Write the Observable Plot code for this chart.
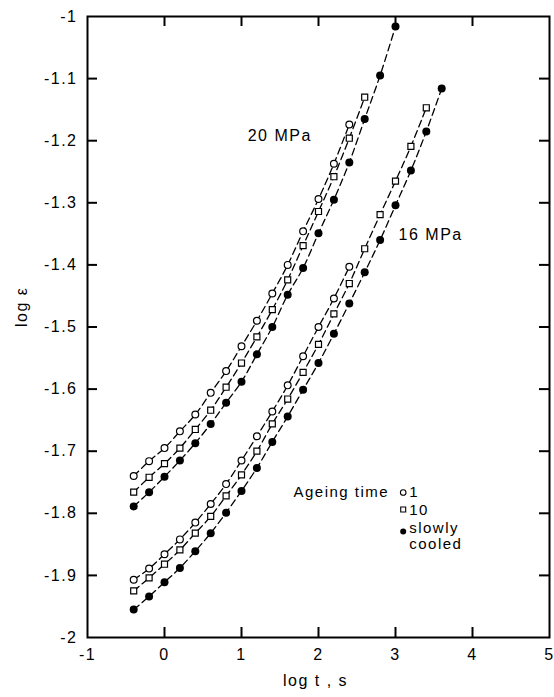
<!DOCTYPE html>
<html><head><meta charset="utf-8">
<script src="https://cdn.jsdelivr.net/npm/d3@7"></script>
<script src="https://cdn.jsdelivr.net/npm/@observablehq/plot@0.6"></script>
<style>
body{margin:0;background:#fff}
svg text{letter-spacing:1.5px}
</style>
</head><body><div id="chart"></div>
<script>
// log t (s) grid of the measurements
const logT = [-0.4, -0.2, 0, 0.2, 0.4, 0.6, 0.8, 1.0, 1.2, 1.4, 1.6, 1.8, 2.0, 2.2, 2.4, 2.6, 2.8, 3.0, 3.2, 3.4, 3.6];

// 20 MPa
const s20_age1   = [-1.740, -1.716, -1.695, -1.668, -1.641, -1.606, -1.571, -1.531, -1.490, -1.446, -1.400, -1.346, -1.294, -1.237, -1.174];
const s20_age10  = [-1.766, -1.742, -1.720, -1.695, -1.665, -1.634, -1.597, -1.558, -1.516, -1.472, -1.424, -1.369, -1.314, -1.258, -1.196, -1.130];
const s20_slow   = [-1.789, -1.766, -1.741, -1.715, -1.687, -1.656, -1.622, -1.588, -1.544, -1.500, -1.448, -1.405, -1.349, -1.295, -1.235, -1.165, -1.095, -1.016];
// 16 MPa
const s16_age1   = [-1.907, -1.889, -1.866, -1.842, -1.815, -1.785, -1.753, -1.715, -1.676, -1.636, -1.594, -1.547, -1.500, -1.454, -1.403];
const s16_age10  = [-1.925, -1.904, -1.882, -1.859, -1.832, -1.805, -1.772, -1.738, -1.700, -1.656, -1.616, -1.573, -1.528, -1.479, -1.430, -1.374, -1.319, -1.265, -1.209, -1.147];
const s16_slow   = [-1.955, -1.934, -1.911, -1.888, -1.861, -1.832, -1.799, -1.764, -1.727, -1.685, -1.644, -1.601, -1.558, -1.511, -1.462, -1.412, -1.360, -1.304, -1.248, -1.185, -1.116];

const xDomain = [-1, 5];
const yDomain = [-2, -1];
const xTicks = [-1, 0, 1, 2, 3, 4, 5];
const xInnerTicks = [0, 1, 2, 3, 4];
const yTicks = [-1, -1.1, -1.2, -1.3, -1.4, -1.5, -1.6, -1.7, -1.8, -1.9, -2];
const yInnerTicks = [-1.1, -1.2, -1.3, -1.4, -1.5, -1.6, -1.7, -1.8, -1.9];

// curve labels
const curveLabels = [
  {x: 1.08, y: -1.20, text: "20 MPa"},
  {x: 3.04, y: -1.36, text: "16 MPa"}
];
// legend (inside plot, data coordinates)
const legendTitle = [{x: 3.10, y: -1.7665, text: "Ageing time"}];
const legendMarks = [
  {x: 3.10, y: -1.7665, kind: "age1"},
  {x: 3.10, y: -1.7939, kind: "age10"},
  {x: 3.10, y: -1.8293, kind: "slow"}
];
const legendTexts = [
  {x: 3.10, y: -1.7665, text: "1"},
  {x: 3.10, y: -1.7950, text: "10"},
  {x: 3.10, y: -1.8245, text: "slowly"},
  {x: 3.10, y: -1.8502, text: "cooled"}
];

function series(vals, key, kind) {
  return vals.map((y, i) => ({x: logT[i], y, key, kind}));
}
const data = [
  ...series(s20_age1, "20-1", "age1"),
  ...series(s20_age10, "20-10", "age10"),
  ...series(s20_slow, "20-s", "slow"),
  ...series(s16_age1, "16-1", "age1"),
  ...series(s16_age10, "16-10", "age10"),
  ...series(s16_slow, "16-s", "slow")
];
const byKind = k => data.filter(d => d.kind === k);
const fmtY = d => (d === -1 || d === -2) ? String(d) : d.toFixed(1);

// layout
const W = 554, H = 697, mL = 87, mR = 5, mT = 16, mB = 60;
// inward tick length in pixels, expressed in each scale's units
const TICK = 10;
const tickX = TICK * (xDomain[1] - xDomain[0]) / (W - mL - mR);
const tickY = TICK * (yDomain[1] - yDomain[0]) / (H - mT - mB);
const tickStyle = {stroke: "black", strokeWidth: 2, strokeLinecap: "butt"};

const chart = Plot.plot({
  width: W,
  height: H,
  marginLeft: mL,
  marginRight: mR,
  marginTop: mT,
  marginBottom: mB,
  style: {fontFamily: "'Liberation Sans', Arial, sans-serif", fontSize: "16px", color: "black", background: "white"},
  x: {domain: xDomain, label: null},
  y: {domain: yDomain, label: null},
  marks: [
    Plot.frame({stroke: "black", strokeWidth: 2}),
    Plot.line(data, {x: "x", y: "y", z: "key", curve: "catmull-rom", stroke: "black", strokeWidth: 1.3, strokeDasharray: "7,4"}),
    Plot.dot(byKind("age1"), {x: "x", y: "y", r: 3.4, fill: "white", stroke: "black", strokeWidth: 1.2}),
    Plot.dot(byKind("age10"), {x: "x", y: "y", symbol: "square", r: 3.4, fill: "white", stroke: "black", strokeWidth: 1.2}),
    Plot.dot(byKind("slow"), {x: "x", y: "y", r: 4, fill: "black"}),
    // inward ticks on all four sides
    Plot.ruleX(xInnerTicks, {x: d => d, y1: () => yDomain[0], y2: () => yDomain[0] + tickY, ...tickStyle}),
    Plot.ruleX(xInnerTicks, {x: d => d, y1: () => yDomain[1], y2: () => yDomain[1] - tickY, ...tickStyle}),
    Plot.ruleY(yInnerTicks, {y: d => d, x1: () => xDomain[0], x2: () => xDomain[0] + tickX, ...tickStyle}),
    Plot.ruleY(yInnerTicks, {y: d => d, x1: () => xDomain[1], x2: () => xDomain[1] - tickX, ...tickStyle}),
    // tick labels
    Plot.axisX({ticks: xTicks, tickSize: 0, tickPadding: 11, fontSize: 16, tickFormat: d => String(d), label: null}),
    Plot.axisY({ticks: yTicks, tickSize: 0, tickPadding: 10, fontSize: 16, tickFormat: fmtY, label: null}),
    Plot.text(curveLabels, {x: "x", y: "y", text: "text", textAnchor: "start", lineAnchor: "bottom", fontSize: 16}),
    Plot.text(legendTitle, {x: "x", y: "y", text: "text", textAnchor: "end", dx: -14, fontSize: 15}),
    Plot.dot(legendMarks.filter(d => d.kind === "age1"), {x: "x", y: "y", r: 2.8, fill: "white", stroke: "black", strokeWidth: 1.1}),
    Plot.dot(legendMarks.filter(d => d.kind === "age10"), {x: "x", y: "y", symbol: "square", r: 2.8, fill: "white", stroke: "black", strokeWidth: 1.1}),
    Plot.dot(legendMarks.filter(d => d.kind === "slow"), {x: "x", y: "y", r: 3, fill: "black"}),
    Plot.text(legendTexts, {x: "x", y: "y", text: "text", textAnchor: "start", dx: 6, fontSize: 15}),
    Plot.text(["log ε"], {frameAnchor: "left", rotate: -90, dx: -66, fontSize: 16}),
    Plot.text(["log t , s"], {frameAnchor: "bottom", dy: 48, dx: -3, fontSize: 16})
  ]
});
document.getElementById("chart").appendChild(chart);
</script>
</body></html>
